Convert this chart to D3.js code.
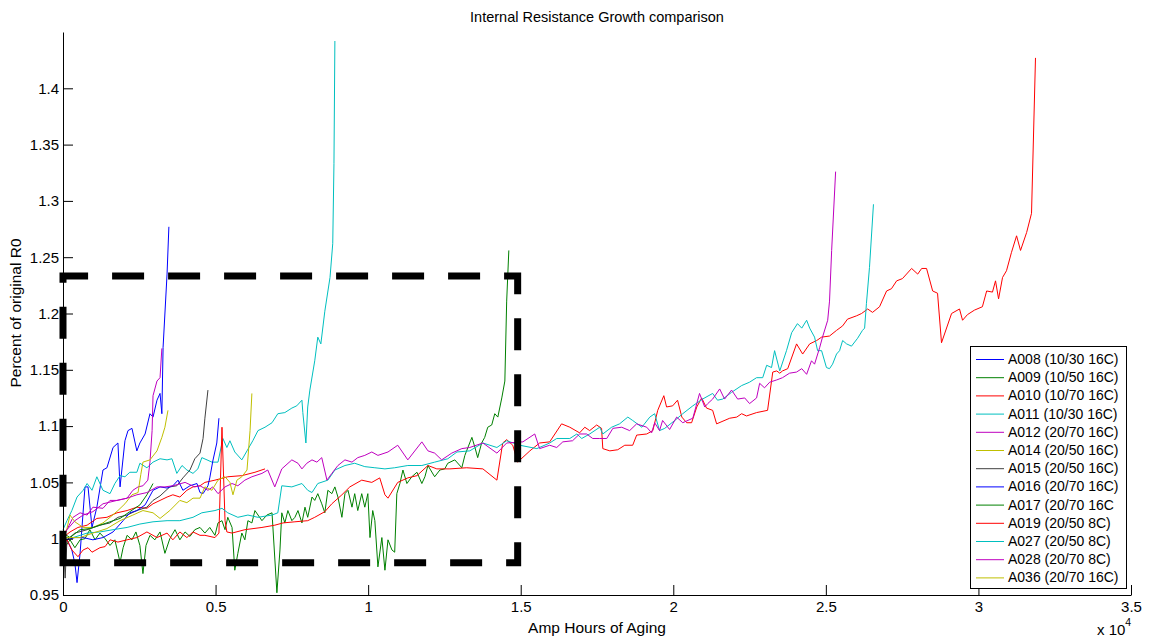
<!DOCTYPE html>
<html>
<head>
<meta charset="utf-8">
<script src="https://cdn.jsdelivr.net/npm/d3@7"></script>
<style>
  html, body { margin: 0; padding: 0; background: #fff; }
  svg { display: block; font-family: "Liberation Sans", Arial, Helvetica, sans-serif; }
</style>
</head>
<body>
<svg id="chart" width="1151" height="639"></svg>
<script>
// Axis ticks (x in units of 10^4 Ah)
const xTicks = [0, 0.5, 1, 1.5, 2, 2.5, 3, 3.5];
const xTickLabels = ["0", "0.5", "1", "1.5", "2", "2.5", "3", "3.5"];
const yTicks = [0.95, 1, 1.05, 1.1, 1.15, 1.2, 1.25, 1.3, 1.35, 1.4];
const yTickLabels = ["0.95", "1", "1.05", "1.1", "1.15", "1.2", "1.25", "1.3", "1.35", "1.4"];

// Cell names as shown in the legend
const cellNames = [
  "A008 (10/30 16C)", "A009 (10/50 16C)", "A010 (10/70 16C)", "A011 (10/30 16C)",
  "A012 (20/70 16C)", "A014 (20/50 16C)", "A015 (20/50 16C)", "A016 (20/70 16C)",
  "A017 (20/70 16C", "A019 (20/50 8C)", "A027 (20/50 8C)", "A028 (20/70 8C)",
  "A036 (20/70 16C)"
];

// Each series: [amp hours of aging (x10^4), fraction of original R0]
const A008 = [[0,1.000],[.013,.999],[.029,.990],[.039,.978],[.046,.961],[.056,.987],[.072,1.046],[.082,1.046],[.095,1.010],[.111,1.028],[.131,1.061],[.144,1.063],[.164,1.081],[.180,1.085],[.187,1.046],[.203,1.087],[.213,1.096],[.226,1.098],[.242,1.078],[.252,1.085],[.269,1.093],[.285,1.111],[.295,1.108],[.308,1.123],[.318,1.129],[.324,1.111],[.328,1.170],[.341,1.235],[.347,1.277]];

const A009 = [[0,1.001],[.010,.994],[.023,.999],[.039,.992],[.056,.999],[.072,1.000],[.088,1.008],[.105,.999],[.121,1.005],[.138,1.000],[.154,.994],[.170,.999],[.187,.979],[.197,.992],[.210,1.003],[.226,.999],[.239,1.006],[.252,.994],[.262,.969],[.272,.994],[.285,1.003],[.301,.999],[.318,1.006],[.334,.987],[.350,1.000],[.367,1.008],[.383,.999],[.400,1.006],[.416,1.002],[.432,1.008],[.449,1.010],[.465,1.005],[.481,1.010],[.498,1.003],[.508,1.014],[.521,1.016],[.531,1.008],[.540,1.019],[.554,1.010],[.563,.972],[.573,.987],[.586,1.005],[.596,.999],[.606,1.016],[.619,1.014],[.629,1.025],[.652,1.016],[.668,1.021],[.685,1.023],[.701,.952],[.711,.990],[.717,1.023],[.727,1.014],[.737,1.025],[.750,1.016],[.760,1.019],[.770,1.025],[.783,1.014],[.793,1.028],[.802,1.019],[.816,1.037],[.825,1.034],[.835,1.040],[.848,1.031],[.858,1.023],[.868,1.043],[.881,1.040],[.891,1.046],[.901,1.037],[.914,1.019],[.924,1.040],[.934,1.043],[.947,1.028],[.956,1.040],[.966,1.025],[.979,1.040],[.989,1.028],[.999,1.040],[1.006,1.001],[1.015,1.025],[1.022,1.016],[1.032,.975],[1.045,1.001],[1.055,.972],[1.065,.999],[1.078,.990],[1.087,.988],[1.094,1.040],[1.104,1.049],[1.114,1.061],[1.127,1.049],[1.143,1.055],[1.160,1.059],[1.176,1.049],[1.186,1.055],[1.196,1.065],[1.218,1.055],[1.235,1.061],[1.251,1.062],[1.261,1.067],[1.284,1.070],[1.307,1.063],[1.317,1.074],[1.327,1.081],[1.340,1.090],[1.350,1.081],[1.359,1.072],[1.372,1.085],[1.382,1.090],[1.392,1.099],[1.405,1.101],[1.415,1.111],[1.425,1.108],[1.438,1.125],[1.448,1.140],[1.454,1.211],[1.461,1.256]];

const A010 = [[0,1.001],[.023,1.006],[.049,1.010],[.079,1.012],[.111,1.018],[.144,1.019],[.177,1.023],[.210,1.025],[.242,1.028],[.275,1.027],[.295,1.031],[.318,1.034],[.341,1.037],[.360,1.039],[.383,1.037],[.406,1.043],[.426,1.046],[.449,1.047],[.465,1.050],[.498,1.052],[.540,1.055],[.586,1.056],[.629,1.059],[.662,1.062]];

const A011 = [[0,1.008],[.013,1.016],[.029,1.025],[.046,1.037],[.066,1.043],[.079,1.049],[.095,1.043],[.111,1.055],[.131,1.043],[.154,1.040],[.170,1.049],[.187,1.056],[.203,1.055],[.219,1.059],[.242,1.059],[.252,1.067],[.275,1.063],[.295,1.068],[.318,1.071],[.341,1.070],[.357,1.071],[.373,1.058],[.390,1.065],[.406,1.061],[.426,1.058],[.442,1.062],[.455,1.072],[.472,1.070],[.488,1.068],[.508,1.068],[.524,1.089],[.537,1.081],[.547,1.087],[.563,1.077],[.586,1.070],[.603,1.078],[.622,1.087],[.639,1.096],[.662,1.099],[.685,1.103],[.704,1.111],[.727,1.112],[.750,1.116],[.766,1.118],[.783,1.123],[.786,1.112],[.796,1.085],[.802,1.117],[.809,1.132],[.825,1.158],[.835,1.179],[.845,1.173],[.858,1.202],[.875,1.232],[.884,1.262],[.888,1.333],[.891,1.442]];

const A012 = [[0,1.000],[.013,1.008],[.033,1.019],[.056,1.023],[.079,1.021],[.098,1.028],[.131,1.027],[.154,1.034],[.177,1.034],[.210,1.036],[.229,1.043],[.246,1.046],[.262,1.047],[.278,1.052],[.285,1.068],[.292,1.096],[.295,1.127],[.308,1.140],[.318,1.143],[.324,1.169]];

const A014 = [[0,.999],[.013,1.009],[.023,1.021],[.039,1.015],[.066,1.010],[.098,1.010],[.131,1.014],[.154,1.019],[.180,1.025],[.203,1.031],[.226,1.039],[.246,1.041],[.255,1.057],[.262,1.068],[.285,1.070],[.308,1.078],[.324,1.090],[.334,1.099],[.344,1.114]];

const A015 = [[0,1.003],[.007,.965],[.013,.999],[.039,1.005],[.079,1.008],[.121,1.012],[.154,1.014],[.180,1.019],[.210,1.021],[.242,1.025],[.275,1.028],[.295,1.034],[.318,1.038],[.350,1.046],[.373,1.047],[.393,1.054],[.416,1.061],[.432,1.071],[.449,1.076],[.459,1.089],[.465,1.107],[.475,1.132]];

const A016 = [[0,1.000],[.013,.999],[.039,1.001],[.066,1.001],[.098,.999],[.131,1.001],[.164,1.006],[.197,1.016],[.219,1.023],[.242,1.025],[.269,1.030],[.295,1.043],[.318,1.046],[.341,1.045],[.360,1.047],[.377,1.052],[.393,1.043],[.416,1.047],[.439,1.049],[.449,1.041],[.459,1.040],[.475,1.047],[.481,1.054],[.491,1.069],[.504,1.085],[.511,1.107]];

const A017 = [[0,1.005],[.023,1.001],[.056,1.008],[.088,1.009],[.121,1.012],[.154,1.015],[.187,1.018],[.219,1.024],[.252,1.030],[.275,1.039],[.295,1.049]];

const A019 = [[0,.996],[.013,.999],[.029,.990],[.049,.984],[.066,.990],[.082,.992],[.095,.988],[.121,.992],[.138,.993],[.154,.999],[.180,.997],[.210,.999],[.242,1.001],[.275,1.006],[.308,1.001],[.341,1.005],[.360,.999],[.383,1.006],[.406,1.001],[.426,1.006],[.449,1.003],[.465,1.003],[.498,1.001],[.511,1.005],[.521,1.099],[.531,1.016],[.537,1.006],[.554,1.005],[.596,1.008],[.652,1.010],[.694,1.012],[.721,1.014],[.760,1.015],[.802,1.016],[.825,1.019],[.858,1.024],[.881,1.031],[.914,1.039],[.940,1.046],[.979,1.052],[1.012,1.050],[1.038,1.054],[1.055,1.039],[1.065,1.036],[1.097,1.050],[1.130,1.054],[1.160,1.056],[1.196,1.065],[1.225,1.062],[1.268,1.062],[1.323,1.063],[1.376,1.062],[1.422,1.052],[1.441,1.085],[1.454,1.088],[1.474,1.083],[1.490,1.068],[1.530,1.078],[1.562,1.085],[1.595,1.086],[1.634,1.102],[1.661,1.099],[1.693,1.094],[1.710,1.099],[1.726,1.096],[1.749,1.101],[1.765,1.098],[1.769,1.080],[1.792,1.078],[1.818,1.079],[1.841,1.083],[1.867,1.083],[1.880,1.092],[1.913,1.093],[1.933,1.096],[1.949,1.114],[1.969,1.127],[1.978,1.117],[1.998,1.118],[2.014,1.123],[2.028,1.108],[2.044,1.103],[2.060,1.103],[2.077,1.117],[2.093,1.125],[2.109,1.116],[2.129,1.114],[2.142,1.102],[2.185,1.107],[2.208,1.108],[2.224,1.111],[2.240,1.109],[2.273,1.112],[2.309,1.114],[2.326,1.148],[2.339,1.149],[2.349,1.147],[2.358,1.149],[2.375,1.151],[2.404,1.173],[2.424,1.164],[2.447,1.173],[2.470,1.176],[2.486,1.179],[2.512,1.180],[2.535,1.185],[2.555,1.189],[2.571,1.195],[2.601,1.198],[2.617,1.200],[2.637,1.204],[2.653,1.201],[2.676,1.206],[2.699,1.220],[2.715,1.222],[2.732,1.229],[2.751,1.231],[2.781,1.240],[2.801,1.235],[2.814,1.240],[2.830,1.240],[2.850,1.220],[2.866,1.218],[2.879,1.174],[2.912,1.200],[2.938,1.204],[2.948,1.194],[2.964,1.199],[2.987,1.203],[3.013,1.206],[3.027,1.220],[3.046,1.219],[3.056,1.229],[3.066,1.213],[3.079,1.232],[3.092,1.238],[3.108,1.254],[3.125,1.269],[3.138,1.256],[3.158,1.272],[3.174,1.289],[3.187,1.427]];

const A027 = [[0,1.001],[.033,1.001],[.079,1.005],[.121,1.006],[.164,1.008],[.210,1.010],[.252,1.013],[.295,1.015],[.341,1.016],[.383,1.016],[.426,1.019],[.455,1.023],[.498,1.025],[.521,1.027],[.540,1.023],[.573,1.019],[.606,1.021],[.639,1.019],[.685,1.021],[.704,1.023],[.717,1.047],[.750,1.046],[.783,1.049],[.802,1.043],[.816,1.041],[.835,1.049],[.868,1.052],[.891,1.061],[.924,1.065],[.956,1.067],[.989,1.064],[1.022,1.063],[1.055,1.062],[1.087,1.063],[1.130,1.065],[1.176,1.065],[1.218,1.068],[1.261,1.071],[1.291,1.077],[1.333,1.078],[1.376,1.085],[1.422,1.081],[1.454,1.087],[1.497,1.083],[1.553,1.080],[1.595,1.085],[1.618,1.089],[1.661,1.089],[1.684,1.093],[1.700,1.089],[1.726,1.093],[1.759,1.099],[1.769,1.093],[1.798,1.099],[1.824,1.102],[1.851,1.108],[1.867,1.105],[1.897,1.099],[1.923,1.108],[1.939,1.111],[1.955,1.096],[1.972,1.098],[2.005,1.105],[2.031,1.111],[2.064,1.118],[2.096,1.124],[2.129,1.129],[2.145,1.123],[2.162,1.124],[2.191,1.130],[2.224,1.136],[2.250,1.139],[2.273,1.143],[2.293,1.143],[2.306,1.154],[2.322,1.152],[2.332,1.167],[2.349,1.149],[2.371,1.167],[2.388,1.183],[2.407,1.191],[2.421,1.187],[2.437,1.194],[2.447,1.187],[2.463,1.179],[2.473,1.167],[2.486,1.167],[2.502,1.152],[2.512,1.151],[2.522,1.155],[2.535,1.164],[2.545,1.167],[2.555,1.176],[2.568,1.173],[2.584,1.171],[2.604,1.178],[2.620,1.185],[2.627,1.187],[2.633,1.209],[2.643,1.241],[2.656,1.297]];

const A028 = [[0,1.003],[.013,1.008],[.039,1.016],[.066,1.021],[.098,1.024],[.131,1.031],[.177,1.034],[.210,1.036],[.242,1.039],[.275,1.041],[.308,1.046],[.334,1.046],[.360,1.047],[.400,1.050],[.432,1.046],[.449,1.047],[.475,1.043],[.491,1.046],[.508,1.040],[.531,1.046],[.554,1.049],[.573,1.047],[.596,1.052],[.619,1.055],[.652,1.058],[.671,1.061],[.694,1.046],[.717,1.062],[.750,1.070],[.770,1.067],[.783,1.062],[.799,1.067],[.816,1.070],[.832,1.068],[.848,1.072],[.865,1.052],[.881,1.058],[.901,1.065],[.924,1.070],[.947,1.068],[.966,1.072],[.989,1.074],[1.012,1.077],[1.032,1.074],[1.065,1.077],[1.097,1.083],[1.130,1.070],[1.176,1.086],[1.196,1.078],[1.218,1.076],[1.241,1.070],[1.274,1.076],[1.307,1.080],[1.333,1.081],[1.376,1.085],[1.422,1.076],[1.454,1.085],[1.507,1.086],[1.546,1.093],[1.562,1.080],[1.595,1.083],[1.618,1.081],[1.638,1.086],[1.670,1.087],[1.693,1.093],[1.716,1.093],[1.736,1.089],[1.759,1.089],[1.782,1.089],[1.802,1.098],[1.831,1.099],[1.857,1.096],[1.880,1.102],[1.913,1.099],[1.929,1.094],[1.939,1.103],[1.955,1.096],[1.965,1.105],[1.988,1.097],[2.011,1.108],[2.031,1.103],[2.064,1.107],[2.086,1.129],[2.103,1.117],[2.113,1.120],[2.129,1.124],[2.152,1.133],[2.168,1.124],[2.191,1.132],[2.211,1.124],[2.234,1.125],[2.250,1.120],[2.273,1.125],[2.283,1.138],[2.299,1.134],[2.316,1.139],[2.339,1.141],[2.358,1.143],[2.381,1.147],[2.404,1.148],[2.421,1.151],[2.437,1.146],[2.453,1.158],[2.463,1.155],[2.480,1.170],[2.489,1.179],[2.506,1.194],[2.512,1.211],[2.519,1.256],[2.532,1.326]];

const A036 = [[0,.999],[.013,1.001],[.056,1.001],[.098,1.005],[.144,1.009],[.187,1.016],[.229,1.021],[.262,1.025],[.295,1.023],[.318,1.018],[.350,1.025],[.383,1.034],[.406,1.032],[.426,1.036],[.449,1.036],[.465,1.046],[.488,1.043],[.508,1.052],[.531,1.055],[.547,1.050],[.557,1.039],[.570,1.052],[.586,1.055],[.603,1.061],[.613,1.096],[.619,1.129]];

// Region of interest outlined on the plot (data coordinates)
const regionX = [0, 1.49];
const regionY = [0.9786, 1.2334];

// Line colour order, cycled over the series
const colorOrder = ["#0000ff", "#008000", "#ff0000", "#00bfbf", "#bf00bf", "#bfbf00", "#404040"];
const colorOf = i => colorOrder[i % colorOrder.length];

const seriesData = [A008, A009, A010, A011, A012, A014, A015, A016, A017, A019, A027, A028, A036];

const svg = d3.select("#chart");
const plot = { left: 63, right: 1131, top: 32, bottom: 595 };

const x = d3.scaleLinear().domain([0, 3.5]).range([plot.left, plot.right]);
const y = d3.scaleLinear().domain([0.95, 1.45]).range([plot.bottom, plot.top]);

// Series lines
const line = d3.line().x(d => x(d[0])).y(d => y(d[1]));
svg.append("g").attr("class", "series")
  .selectAll("path")
  .data(seriesData)
  .join("path")
  .attr("d", d => line(d))
  .attr("fill", "none")
  .attr("stroke", (d, i) => colorOf(i))
  .attr("stroke-width", 1)
  .attr("stroke-linejoin", "round");

// Thick dashed outline around the early-life region
const rx0 = x(regionX[0]), rx1 = x(regionX[1]);
const ry0 = y(regionY[0]), ry1 = y(regionY[1]);
svg.append("path")
  .attr("d", `M${rx0},${ry0} L${rx0},${ry1} L${rx1},${ry1} L${rx1},${ry0} Z`)
  .attr("fill", "none")
  .attr("stroke", "#000")
  .attr("stroke-width", 7)
  .attr("stroke-dasharray", "32 24")
  .attr("stroke-linejoin", "miter")
  .attr("stroke-linecap", "butt");

// Axes (ticks point inward, no box)
const xAxis = d3.axisBottom(x)
  .tickValues(xTicks)
  .tickFormat((d, i) => xTickLabels[i])
  .tickSizeInner(-10).tickSizeOuter(0).tickPadding(6);
const yAxis = d3.axisLeft(y)
  .tickValues(yTicks)
  .tickFormat((d, i) => yTickLabels[i])
  .tickSizeInner(-10).tickSizeOuter(0).tickPadding(4);

const gx = svg.append("g").attr("transform", `translate(0,${plot.bottom})`).call(xAxis);
const gy = svg.append("g").attr("transform", `translate(${plot.left},0)`).call(yAxis);
[gx, gy].forEach(g => {
  g.attr("font-family", null).attr("font-size", null);
  g.select(".domain").attr("stroke", "#000");
  g.selectAll(".tick line").attr("stroke", "#000");
  g.selectAll(".tick text").attr("fill", "#000").style("font-size", "15px");
});

// Titles
svg.append("text")
  .attr("x", (plot.left + plot.right) / 2).attr("y", 22)
  .attr("text-anchor", "middle").style("font-size", "14.5px")
  .text("Internal Resistance Growth comparison");
svg.append("text")
  .attr("x", (plot.left + plot.right) / 2).attr("y", 633)
  .attr("text-anchor", "middle").style("font-size", "15.5px")
  .text("Amp Hours of Aging");
svg.append("text")
  .attr("transform", `translate(21,313) rotate(-90)`)
  .attr("text-anchor", "middle").style("font-size", "15.5px")
  .text("Percent of original R0");

// Exponent note for the x axis
const expo = svg.append("text")
  .attr("x", 1097).attr("y", 635)
  .style("font-size", "15px");
expo.append("tspan").text("x 10");
expo.append("tspan").attr("dy", -9).style("font-size", "10.5px").text("4");

// Legend
const legend = svg.append("g").attr("class", "legend");
const lgX = 970.5, lgY = 346.5, lgW = 156, lgH = 242;
legend.append("rect")
  .attr("x", lgX).attr("y", lgY).attr("width", lgW).attr("height", lgH)
  .attr("fill", "#fff").attr("stroke", "#000").attr("stroke-width", 1);
const rowH = 18.2;
const rows = legend.selectAll("g.row")
  .data(cellNames.map((name, i) => ({ name, i })))
  .join("g").attr("class", "row")
  .attr("transform", d => `translate(0,${359 + d.i * rowH})`);
rows.append("line")
  .attr("x1", 976).attr("x2", 1004).attr("y1", 0.5).attr("y2", 0.5)
  .attr("stroke", d => colorOf(d.i))
  .attr("stroke-width", 1);
rows.append("text")
  .attr("x", 1008).attr("y", 0).attr("dy", "0.36em")
  .style("font-size", "14px")
  .text(d => d.name);
</script>
</body>
</html>
